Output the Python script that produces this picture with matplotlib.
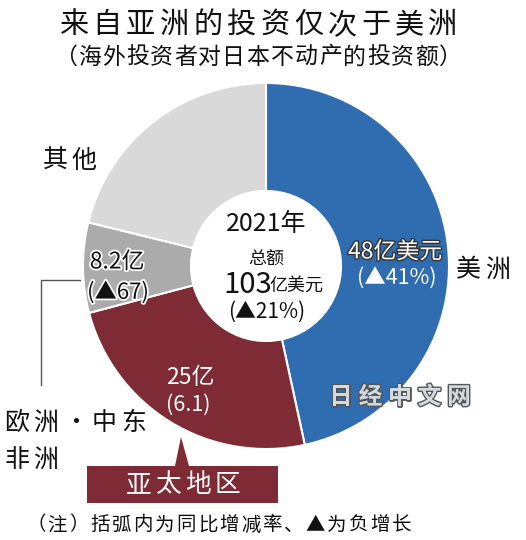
import matplotlib
matplotlib.use("Agg")
import matplotlib.pyplot as plt
import matplotlib.patheffects as pe
from matplotlib.patches import Polygon

plt.rcParams['font.family'] = ['Noto Sans CJK SC', 'DejaVu Sans']

# Data: investment by overseas investors in Japanese real estate, 2021 (100 million USD)
regions = ['美洲', '亚太地区', '欧洲・中东非洲', '其他']
amounts = [48, 25, 8.2, 21.8]
changes = ['▲41%', '6.1', '▲67', '']
colors = ['#2f6cb0', '#7e2b36', '#ababab', '#d9d9d9']
total = 103
total_change = '▲21%'

W, H = 526, 540
fig = plt.figure(figsize=(W / 100, H / 100), dpi=100)
ax = fig.add_axes([0, 0, 1, 1])


def py(y):
    # convert from top-down pixel coordinates
    return H - y


def spaced(x, y, s, size, pitch, ha='center', **kw):
    # CJK text with extra letter spacing: one glyph per fixed pitch
    start = x - pitch * len(s) / 2 if ha == 'center' else x
    for i, ch in enumerate(s):
        ax.text(start + pitch * (i + 0.5), py(y), ch, ha='center', va='center',
                fontsize=size, **kw)


cx, cy, r = 266, 266, 183
ax.pie(amounts, colors=colors, startangle=90, counterclock=False,
       radius=r, center=(cx, py(cy)), frame=True,
       wedgeprops=dict(width=r * 0.59, edgecolor='white', linewidth=1.5))
ax.set_xlim(0, W)
ax.set_ylim(0, H)
ax.axis('off')

ink = '#111111'

# title
spaced(258, 25, '来自亚洲的投资仅次于美洲', 21, 33.6, color=ink)
spaced(258, 57, '（海外投资者对日本不动产的投资额）', 16.5, 24.1, color=ink)

# center text
ax.text(266, py(224), '2021年', ha='center', va='center', fontsize=18, color=ink)
ax.text(266, py(260), '总额', ha='center', va='center', fontsize=13, color=ink)
ax.text(248, py(285), f'{total}', ha='center', va='center', fontsize=21, color=ink)
ax.text(296, py(286), '亿美元', ha='center', va='center', fontsize=13, color=ink)
ax.text(267, py(312), f'({total_change})', ha='center', va='center', fontsize=15,
        color=ink)

outline_dark = [pe.withStroke(linewidth=2, foreground='#333333')]
outline_white = [pe.withStroke(linewidth=2.5, foreground='white')]

# Americas
ax.text(395, py(252), f'{amounts[0]}亿美元', ha='center', va='center', fontsize=16.5,
        color='white', path_effects=outline_dark)
ax.text(397, py(279), f'({changes[0]})', ha='center', va='center', fontsize=15.5,
        color='white')
spaced(483, 270, regions[0], 18, 29, color=ink)

# Asia Pacific
ax.text(190, py(378), f'{amounts[1]}亿', ha='center', va='center', fontsize=16.5,
        color='white')
ax.text(188, py(405), f'({changes[1]})', ha='center', va='center', fontsize=15.5,
        color='white')
box = Polygon([(87, py(466)), (175, py(466)), (181, py(437)), (189, py(466)),
               (278, py(466)), (278, py(503)), (87, py(503))],
              closed=True, facecolor=colors[1], edgecolor='none')
ax.add_patch(box)
spaced(183, 485, regions[1], 18.5, 29.5, color='white')

# Europe / Middle East / Africa
ax.text(117, py(262), f'{amounts[2]}亿', ha='center', va='center', fontsize=16.5,
        color=ink, path_effects=outline_white)
ax.text(118, py(292), f'({changes[2]})', ha='center', va='center', fontsize=16,
        color=ink, path_effects=outline_white)
ax.plot([80, 41, 41], [py(280), py(280), py(385)], color='#555555', lw=1)
spaced(2, 423, '欧洲・中东', 18, 29.3, ha='left', color=ink)
spaced(2, 460, '非洲', 18, 29.3, ha='left', color=ink)

# Others
spaced(70, 161, regions[3], 18, 29, color=ink)

# watermark
spaced(400, 397, '日经中文网', 17, 29.5, color='#d3d9e0', fontweight='bold',
       path_effects=[pe.withStroke(linewidth=2, foreground='#555555')])

# note
spaced(25, 525, '（注）括弧内为同比增减率、▲为负增长', 14, 21.5, ha='left', color=ink)

fig.savefig('out.png', dpi=100)
